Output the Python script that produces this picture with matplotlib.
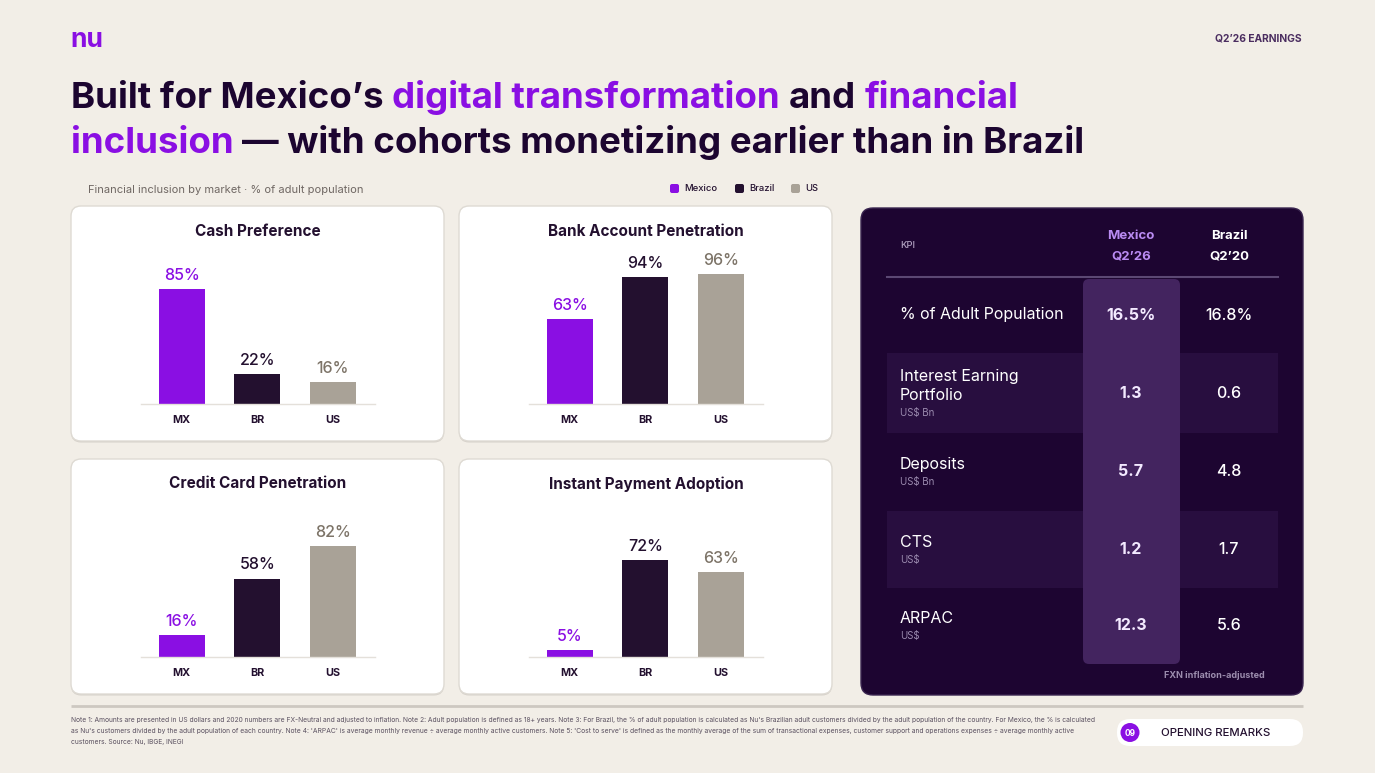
import matplotlib
matplotlib.use("Agg")
import matplotlib.pyplot as plt
from matplotlib.patches import FancyBboxPatch, Rectangle, Circle

# ---------------- data ----------------
countries = ["MX", "BR", "US"]
legend_labels = ["Mexico", "Brazil", "US"]
chart_titles = ["Cash Preference", "Bank Account Penetration",
                "Credit Card Penetration", "Instant Payment Adoption"]
cash_preference = [85, 22, 16]
bank_account = [63, 94, 96]
credit_card = [16, 58, 82]
instant_payment = [5, 72, 63]

kpi_labels = ["% of Adult Population", "Interest Earning\nPortfolio", "Deposits", "CTS", "ARPAC"]
kpi_units = ["", "US$ Bn", "US$ Bn", "US$", "US$"]
mexico_q226 = [16.5, 1.3, 5.7, 1.2, 12.3]
brazil_q220 = [16.8, 0.6, 4.8, 1.7, 5.6]
kpi_is_pct = [True, False, False, False, False]

notes = [
    "Note 1: Amounts are presented in US dollars and 2020 numbers are FX-Neutral and adjusted to inflation. Note 2: Adult population is defined as 18+ years. Note 3: For Brazil, the % of adult population is calculated as Nu's Brazilian adult customers divided by the adult population of the country. For Mexico, the % is calculated",
    "as Nu's customers divided by the adult population of each country. Note 4: 'ARPAC' is average monthly revenue \u00f7 average monthly active customers. Note 5: 'Cost to serve' is defined as the monthly average of the sum of transactional expenses, customer support and operations expenses \u00f7 average monthly active",
    "customers. Source: Nu, IBGE, INEGI",
]

# ---------------- style ----------------
W, H = 1375, 773
BG = "#F2EEE7"
PURPLE = "#8A0FE3"
DARK = "#23102F"
GREY = "#A9A297"
INK = "#1C0530"
FONT = "Inter"
plt.rcParams["font.family"] = [FONT, "DejaVu Sans"]

fig = plt.figure(figsize=(W / 100, H / 100), dpi=100, facecolor=BG)
bg = fig.add_axes([0, 0, 1, 1])
bg.set_xlim(0, W)
bg.set_ylim(H, 0)
bg.axis("off")
renderer = fig.canvas.get_renderer()


def text_width(s, **kw):
    t = bg.text(0, 0, s, **kw)
    w = t.get_window_extent(renderer=renderer).width
    t.remove()
    return w


def fit_size(s, target, base=20, **kw):
    return base * target / text_width(s, fontsize=base, **kw)


# ---------------- header ----------------
bg.text(70, 40, "nu", fontsize=19, fontweight="bold", color=PURPLE, va="center", ha="left")
bg.text(1302, 39, "Q2\u201926 EARNINGS", fontsize=7.4, fontweight="bold", color="#4B2D60",
        va="center", ha="right")

title_lines = [
    [("Built for Mexico\u2019s", INK), ("digital transformation", PURPLE), ("and", INK), ("financial", PURPLE)],
    [("inclusion", PURPLE), ("\u2014 with cohorts monetizing earlier than in Brazil", INK)],
]
title_kw = dict(fontweight="bold")
line1 = " ".join(s for s, _ in title_lines[0])
tsize = fit_size(line1, 951, **title_kw)
space_w = text_width("a a", fontsize=tsize, **title_kw) - text_width("aa", fontsize=tsize, **title_kw)
for segs, ybase in zip(title_lines, [108, 153]):
    x = 71
    for s, col in segs:
        t = bg.text(x, ybase, s, fontsize=tsize, color=col, va="baseline", ha="left", **title_kw)
        x = t.get_window_extent(renderer=renderer).x1 + space_w

bg.text(88, 190, "Financial inclusion by market \u00b7 % of adult population", fontsize=8,
        color="#6F6763", va="center", ha="left")

# legend
leg_x = [670, 735, 791]
for lx, lab, col in zip(leg_x, legend_labels, [PURPLE, DARK, GREY]):
    bg.add_patch(FancyBboxPatch((lx, 184), 9, 9, boxstyle="round,pad=0,rounding_size=2",
                                facecolor=col, edgecolor="none"))
    bg.text(lx + 14, 188.5, lab, fontsize=6.8, color=DARK, va="center", ha="left", fontweight="medium")


# ---------------- bar panels ----------------
def bar_panel(L, T, title, values):
    bg.add_patch(FancyBboxPatch((L, T + 1.5), 373, 235, boxstyle="round,pad=0,rounding_size=10",
                                facecolor="#D6D1CA", edgecolor="none"))
    bg.add_patch(FancyBboxPatch((L, T), 373, 235, boxstyle="round,pad=0,rounding_size=10",
                                facecolor="white", edgecolor="#DEDAD3", linewidth=1))
    bg.text(L + 187, T + 25, title, fontsize=11, fontweight="bold", color=DARK, ha="center", va="center")
    ax = fig.add_axes([(L + 70) / W, 1 - (T + 198) / H, 234 / W, 135.3 / H])
    ax.patch.set_alpha(0)
    cols = [PURPLE, DARK, GREY]
    ax.bar(range(len(values)), values, width=0.61, color=cols)
    ax.set_xlim(-0.54, 2.56)
    ax.set_ylim(0, 100)
    for sp in ["top", "left", "right"]:
        ax.spines[sp].set_visible(False)
    ax.spines["bottom"].set_color("#E4E0DA")
    ax.spines["bottom"].set_linewidth(1)
    ax.set_yticks([])
    ax.set_xticks(range(len(values)))
    ax.set_xticklabels(countries, fontsize=7.8, fontweight="bold", color=DARK)
    ax.tick_params(axis="x", length=0, pad=8)
    lab_cols = [PURPLE, DARK, "#7D7468"]
    for i, v in enumerate(values):
        ax.annotate(f"{v}%", (i, v), xytext=(0, 6.5), textcoords="offset points",
                    ha="center", va="baseline", fontsize=11.5, fontweight="medium",
                    color=lab_cols[i], annotation_clip=False)


bar_panel(71, 206, chart_titles[0], cash_preference)
bar_panel(459, 206, chart_titles[1], bank_account)
bar_panel(71, 459, chart_titles[2], credit_card)
bar_panel(459, 459, chart_titles[3], instant_payment)

# ---------------- KPI table ----------------
bg.add_patch(FancyBboxPatch((861, 208), 442, 487, boxstyle="round,pad=0,rounding_size=12",
                            facecolor="#1D0531", edgecolor="#3A2550", linewidth=1))
row_bounds = [(277, 353), (353, 433), (433, 511), (511, 588), (588, 664)]
for k, (y0, y1) in enumerate(row_bounds):
    if k % 2 == 1:
        bg.add_patch(Rectangle((887, y0), 391, y1 - y0, facecolor="#280E3F", edgecolor="none"))
bg.add_patch(FancyBboxPatch((1083, 279), 97, 385, boxstyle="round,pad=0,rounding_size=6",
                            facecolor="#43245F", edgecolor="none"))
bg.plot([887, 1278], [277, 277], color="#5B4873", lw=1.5)

bg.text(900, 246, "KPI", fontsize=6.8, color="#B3A4C3", fontweight="medium", va="center", ha="left")
bg.text(1131, 236, "Mexico", fontsize=9.5, fontweight="bold", color="#B98BF2", ha="center", va="center")
bg.text(1131, 256, "Q2\u201926", fontsize=9.5, fontweight="bold", color="#B98BF2", ha="center", va="center")
bg.text(1229, 236, "Brazil", fontsize=9.5, fontweight="bold", color="white", ha="center", va="center")
bg.text(1229, 256, "Q2\u201920", fontsize=9.5, fontweight="bold", color="white", ha="center", va="center")

for k, (y0, y1) in enumerate(row_bounds):
    c = (y0 + y1) / 2
    lines = kpi_labels[k].split("\n")
    if kpi_units[k]:
        total = (len(lines) - 1) * 19 + 17.5
        ystart = c + 1.5 - total / 2
        for j, ln in enumerate(lines):
            bg.text(900, ystart + 19 * j, ln, fontsize=11.5, color="white", va="center", ha="left")
        bg.text(900, ystart + (len(lines) - 1) * 19 + 17.5, kpi_units[k], fontsize=7,
                color="#9A8AAE", va="center", ha="left")
    else:
        bg.text(900, c, lines[0], fontsize=11.5, color="white", va="center", ha="left")
    fmt = (lambda v: f"{v:.1f}%") if kpi_is_pct[k] else (lambda v: f"{v:.1f}")
    bg.text(1131, c, fmt(mexico_q226[k]), fontsize=11.5, fontweight="bold", color="#F3EAFF",
            ha="center", va="center")
    bg.text(1229, c, fmt(brazil_q220[k]), fontsize=11.5, fontweight="medium", color="white",
            ha="center", va="center")

bg.text(1265, 675, "FXN inflation-adjusted", fontsize=6.5, fontweight="bold", color="#9C8DAE",
        ha="right", va="center")

# ---------------- footer ----------------
bg.plot([71, 1303], [706, 706], color="#CDC8C1", lw=2, solid_capstyle="butt")
nsize = fit_size(notes[0], 1022)
for j, ln in enumerate(notes):
    bg.text(71, 720 + 11 * j, ln, fontsize=nsize, color="#5A5060", va="center", ha="left")

bg.add_patch(FancyBboxPatch((1117, 719), 186, 27, boxstyle="round,pad=0,rounding_size=13",
                            facecolor="white", edgecolor="none"))
bg.add_patch(Circle((1130, 732.5), 9.5, facecolor=PURPLE, edgecolor="none"))
bg.text(1130, 733, "09", fontsize=6, fontweight="bold", color="white", ha="center", va="center")
bg.text(1161, 733, "OPENING REMARKS", fontsize=8.2, fontweight="medium", color=DARK,
        ha="left", va="center")

fig.savefig("out.png", dpi=100, facecolor=BG)
